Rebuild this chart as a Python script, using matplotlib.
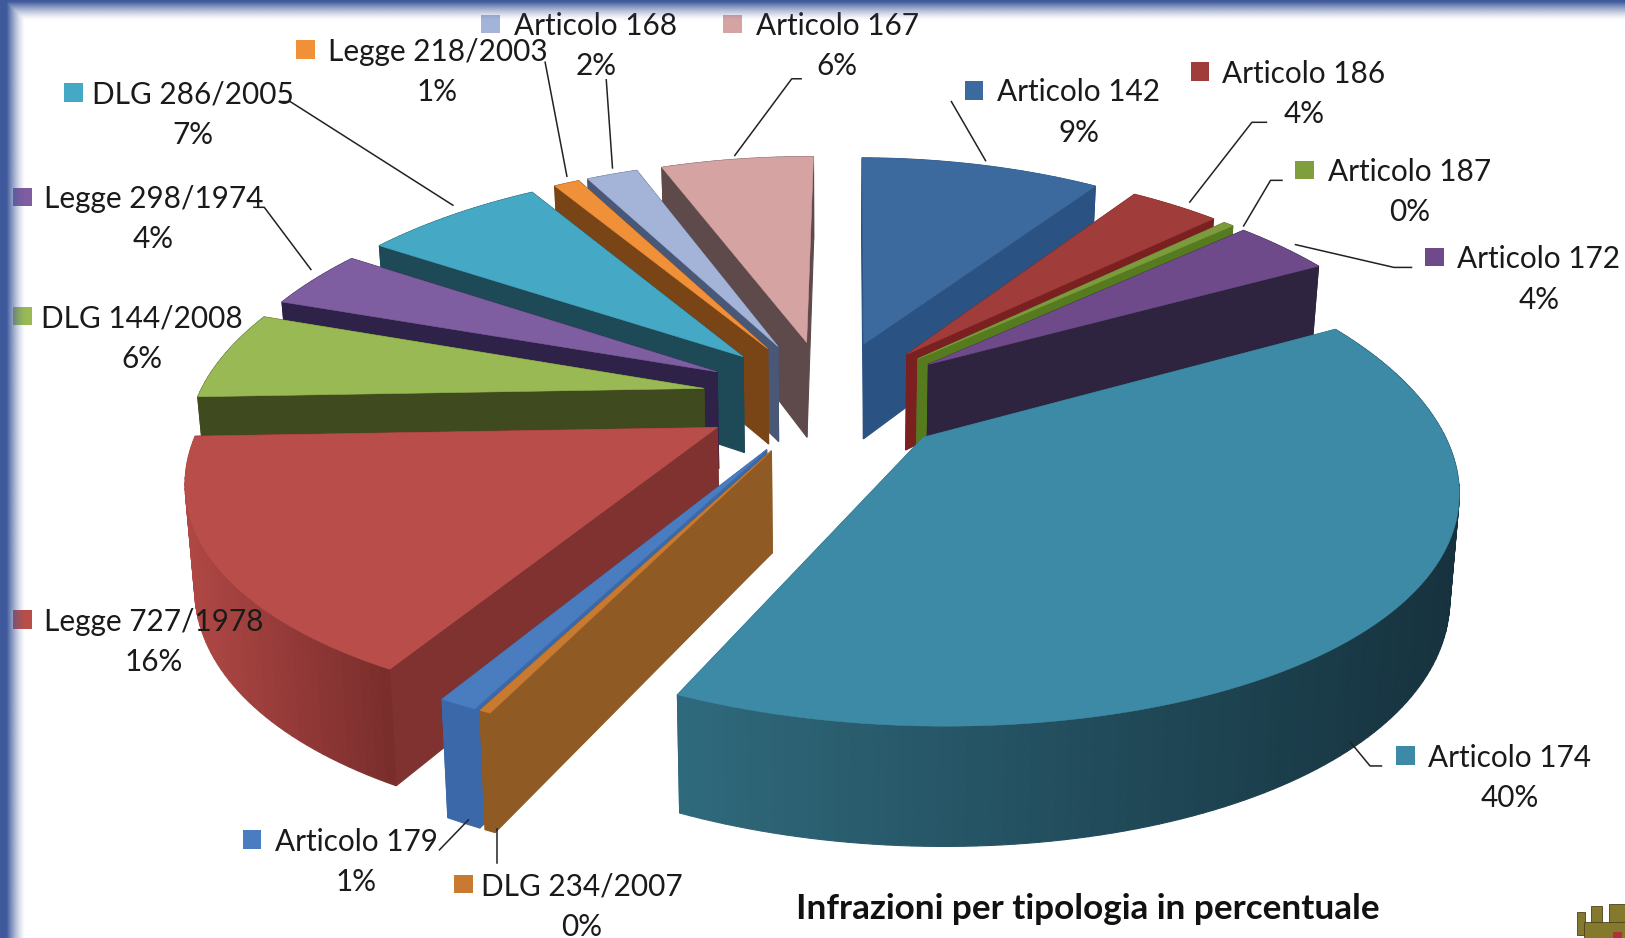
#!/usr/bin/env python3
"""Exploded 3D pie of infractions by type, projected by hand onto a 2D axes"""

import numpy as np
import matplotlib
matplotlib.use('Agg')
import matplotlib.pyplot as plt
from matplotlib.patches import Polygon, Rectangle
from matplotlib.colors import to_rgb

# data, clockwise from 12 o'clock
categories = ['Articolo 142', 'Articolo 186', 'Articolo 187', 'Articolo 172', 'Articolo 174',
              'DLG 234/2007', 'Articolo 179', 'Legge 727/1978', 'DLG 144/2008', 'Legge 298/1974',
              'DLG 286/2005', 'Legge 218/2003', 'Articolo 168', 'Articolo 167']
values = [9.4, 3.5, 0.4, 3.8, 40.3, 0.3, 1.0, 16.4, 6.0, 4.0, 7.0, 1.0, 2.0, 6.0]

# styles
top_colors = ['#3d6a9e', '#a03d3a', '#7c9a3e', '#6f4a8a', '#3c8aa5', '#c87a30', '#4a7cc0',
              '#b94d4a', '#98b954', '#7e5da0', '#45a8c4', '#f09038', '#a3b4d8', '#d6a3a3']
side_colors = ['#2a5282', '#7a2020', '#567a1e', '#2e2440', '#2f6a7d', '#8f5a24', '#3b68a8',
               '#7f3230', '#3f4a1f', '#2e2248', '#1d4a56', '#7a4516', '#4a5878', '#5e4a4a']
# outer wall shading, left end to right end
wall_colors = {'Articolo 174': ('#2f6a7d', '#16323e'),
               'Legge 727/1978': ('#b04845', '#7a2e2c')}
swatch_colors = ['#3d6a9e', '#a03d3a', '#7f9f3f', '#6f4a8a', '#3c8aa5', '#c87a30', '#4a7cc0',
                 '#b94d4a', '#98b954', '#7e5da0', '#45a8c4', '#f09038', '#a3b4d8', '#d6a3a3']

# label layout in picture units: swatch x, swatch y, text centre x
swatch_x = [940, 1158, 1259, 1384, 1356, 447, 243, 22, 22, 22, 71, 295, 473, 707]
label_y = [87, 69, 164, 248, 729, 853, 810, 598, 305, 190, 89, 48, 23, 23]
label_x = [1041, 1258, 1360, 1485, 1457, 561, 344, 148, 137, 148, 186, 422, 575, 808]
leaders = [[(918, 98), (951, 155)],
           [(1222, 118), (1208, 118), (1148, 195)],
           [(1237, 174), (1226, 174), (1200, 218)],
           [(1362, 258), (1345, 258), (1250, 236)],
           [(1333, 739), (1322, 739), (1303, 716)],
           [(480, 833), (480, 800)],
           [(424, 820), (452, 791)],
           [(245, 200), (255, 200), (300, 260)],
           [(270, 98), (280, 98), (437, 198)],
           [(526, 60), (547, 170)],
           [(585, 77), (591, 162)],
           [(773, 76), (764, 76), (709, 150)]]

# projection
CX, CY = 799, 383
SCALE_X, SCALE_Y = 488, 222
PERSP_X, PERSP_Y = 0.185, 0.155
THICK = 95
EXPLODE = 0.25
ROTATION = np.radians(0.5)
VERT = 0.015  # vertical edges lean towards the centre going down

FONT = 'Lato'


def project(x, y, z=0.0):
    """Pie plane coordinates (y goes away from the viewer) to picture units"""
    y = np.asarray(y)
    sx = SCALE_X * np.asarray(x) / (1 + PERSP_X * y) * (1 - VERT * z)
    return CX + sx, CY + (-SCALE_Y * y + THICK * z) / (1 + PERSP_Y * y)


def quad(ax, x0, y0, x1, y1, color, zorder):
    """Vertical wall between two plane points, from top (z=0) to bottom (z=1)"""
    pts = [project(x0, y0, 0), project(x1, y1, 0), project(x1, y1, 1), project(x0, y0, 1)]
    ax.add_patch(Polygon(pts, closed=True, fc=color, ec=color, lw=0.8, zorder=zorder))


def draw_wedge(ax, start, end, top, side, wall, zorder):
    """One exploded wedge, walls painted far to near and the top face last"""
    mid = (start + end) / 2
    ox, oy = EXPLODE * np.sin(mid), EXPLODE * np.cos(mid)
    theta = np.linspace(start, end, max(int((end - start) / 0.02), 2))
    xs, ys = ox + np.sin(theta), oy + np.cos(theta)

    faces = []
    for tx, ty in [(xs[0], ys[0]), (xs[-1], ys[-1])]:
        faces.append(((ox + tx) / 2, (oy + ty) / 2, ox, oy, tx, ty, side))

    c_left, c_right = [np.array(to_rgb(c)) for c in wall]
    sx_all = project(xs, ys)[0]
    span = max(sx_all.max() - sx_all.min(), 1)
    for i in range(len(xs) - 1):
        t = (sx_all[i] - sx_all.min()) / span
        faces.append(((xs[i] + xs[i + 1]) / 2, (ys[i] + ys[i + 1]) / 2,
                      xs[i], ys[i], xs[i + 1], ys[i + 1], tuple(c_left + (c_right - c_left) * t)))

    # far walls first
    faces.sort(key=lambda f: -f[1])
    for _, _, x0, y0, x1, y1, color in faces:
        quad(ax, x0, y0, x1, y1, color, zorder)

    px, py = project(np.r_[ox, xs], np.r_[oy, ys])
    ax.add_patch(Polygon(np.c_[px, py], closed=True, fc=top, ec=top, lw=0.4, zorder=zorder + 0.5))


def draw_frame(ax):
    """Blue slide border fading to white along the left and top edges"""
    h, w = 905, 1568
    xx, yy = np.meshgrid(np.arange(w), np.arange(h))
    alpha = np.maximum(np.clip(1 - (xx - 6) / 18, 0, 1), np.clip(1 - (yy - 2) / 18, 0, 1))
    img = np.zeros((h, w, 4))
    img[..., :3] = to_rgb('#3f5a9c')
    img[..., 3] = alpha ** 1.4
    ax.imshow(img, extent=(0, w, h, 0), zorder=50, interpolation='bilinear', aspect='auto')


def draw_crest(ax):
    """Corner of the town crest: small brick towers cut off by the picture edge"""
    gold = '#85792e'
    for x, y, w, h in [(1522, 880, 7, 22), (1535, 874, 11, 31), (1553, 872, 15, 33), (1528, 890, 40, 16)]:
        ax.add_patch(Rectangle((x, y), w, h, fc=gold, ec='#4a4318', lw=0.6, zorder=40))
    ax.add_patch(Rectangle((1556, 899), 9, 7, fc='#b03040', ec='none', zorder=41))


fig = plt.figure(figsize=(16.25, 9.38), dpi=100)
ax = fig.add_axes([0, 0, 1, 1])
ax.set_xlim(0, 1568)
ax.set_ylim(905, 0)
ax.axis('off')

fracs = np.array(values) / sum(values)
edges = np.r_[0, np.cumsum(fracs)] * 2 * np.pi + ROTATION
mids = (edges[:-1] + edges[1:]) / 2

# back wedges first
order = np.argsort(-np.cos(mids))
for rank, i in enumerate(order):
    wall = wall_colors.get(categories[i], (side_colors[i], side_colors[i]))
    draw_wedge(ax, edges[i], edges[i + 1], top_colors[i], side_colors[i], wall, 5 + rank)

for pts in leaders:
    ax.plot(*zip(*pts), color='#222222', lw=1.1, zorder=30)

for i, name in enumerate(categories):
    ax.add_patch(Rectangle((swatch_x[i] - 9, label_y[i] - 9), 18, 18, fc=swatch_colors[i], ec='none', zorder=31))
    ax.text(label_x[i], label_y[i] + 2, name, fontsize=21.4, family=FONT, color='#1a1a1a',
            ha='center', va='center', zorder=32)
    ax.text(label_x[i], label_y[i] + 41, f'{round(values[i])}%', fontsize=21.4, family=FONT, color='#1a1a1a',
            ha='center', va='center', zorder=32)

ax.text(1050, 877, 'Infrazioni per tipologia in percentuale', fontsize=25.3, family=FONT,
        fontweight='bold', color='#111111', ha='center', va='center', zorder=32)

draw_crest(ax)
draw_frame(ax)
ax.set_xlim(0, 1568)
ax.set_ylim(905, 0)

fig.savefig('out.png', dpi=100)
plt.close(fig)
